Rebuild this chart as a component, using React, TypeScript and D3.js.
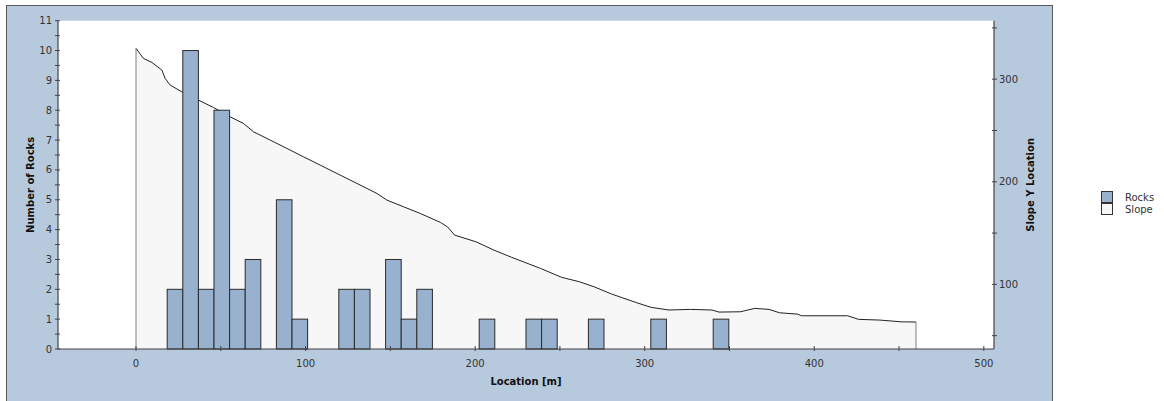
import React from "react";
import * as d3 from "d3";

// ---- data ----
const binWidth = 9.2;
const rockLocations = [23, 32.2, 41.4, 50.6, 59.8, 69, 87.4, 96.6, 124.2, 133.4, 151.8, 161, 170.2, 207, 234.6, 243.8, 271.4, 308.2, 345];
const rockCounts = [2, 10, 2, 8, 2, 3, 5, 1, 2, 2, 3, 1, 2, 1, 1, 1, 1, 1, 1];

const slopeX = [0, 4.4, 9.4, 15.3, 17.2, 20.2, 27.1, 36.9, 45.7, 55.6, 63.4, 69.3, 79.2, 89, 98.8, 108.7, 118.5, 130.3, 142.1, 148, 157.8, 167.7, 179.5, 183.7, 187.9, 200.5, 211.1, 221.6, 238.5, 251.1, 261.6, 270.1, 280.6, 295.3, 303.8, 314.3, 327, 339.6, 343.8, 356.5, 364.9, 373.3, 379.6, 390.2, 392.3, 419.7, 426.1, 438.7, 451.3, 460];
const slopeY = [330, 320.2, 316.3, 308.8, 300.7, 294.2, 287.6, 279.5, 272.4, 263.3, 256.8, 248.7, 240.6, 232.5, 224.3, 216.2, 208.1, 198.4, 188.6, 182.1, 175.6, 169.1, 160.4, 156.1, 148, 141.5, 133.4, 126.3, 115.6, 106.8, 102.5, 97.7, 90.5, 82.1, 77.6, 75, 75.6, 75, 73, 73.3, 76.6, 75.6, 72.3, 71, 69.4, 69.4, 65.9, 65.2, 63.5, 63.3];

const xTicks = [0, 100, 200, 300, 400, 500];
const xMinorTicks = [50, 150, 250, 350, 450];
const yLeftTicks = [0, 1, 2, 3, 4, 5, 6, 7, 8, 9, 10, 11];
const yLeftMinor = [0.5, 1.5, 2.5, 3.5, 4.5, 5.5, 6.5, 7.5, 8.5, 9.5, 10.5];
const yRightTicks = [100, 200, 300];
const yRightMinor = [50, 150, 250, 350];

const legendItems = ["Rocks", "Slope"];

const FONT = "'DejaVu Sans', Verdana, sans-serif";
const PANEL = "#b7c9dd";
const BAR = "#98b1cf";
const TXT = "#333";

export default function App() {
  const W = 1164, H = 401;
  const left = 58, right = 994, top = 20.7, bottom = 349;

  const x = d3.scaleLinear().domain([-46, 506]).range([left, right]);
  const yL = d3.scaleLinear().domain([0, 11]).range([bottom, top]);
  const yR = d3.scaleLinear().domain([37, 357]).range([bottom, top]);

  const pts = slopeX.map((v, i) => [v, slopeY[i]] as [number, number]);
  const area = d3.area<[number, number]>()
    .x(d => x(d[0]))
    .y0(bottom)
    .y1(d => yR(d[1]));
  const line = d3.line<[number, number]>()
    .x(d => x(d[0]))
    .y(d => yR(d[1]));

  const first = pts[0];
  const last = pts[pts.length - 1];

  return (
    <svg width={W} height={H} style={{ position: "absolute", left: 0, top: 0 }} fontFamily={FONT}>
      {/* panel */}
      <rect x={6.5} y={5.5} width={1046} height={410} fill={PANEL} stroke="#5a5a5a" strokeWidth={1} />
      {/* plot area */}
      <rect x={left} y={top} width={right - left} height={bottom - top} fill="#ffffff" />

      {/* slope area */}
      <path d={area(pts) || ""} fill="#f7f7f7" />
      <line x1={x(first[0])} x2={x(first[0])} y1={bottom} y2={yR(first[1])} stroke="#808080" strokeWidth={1} />
      <line x1={x(last[0])} x2={x(last[0])} y1={bottom} y2={yR(last[1])} stroke="#808080" strokeWidth={1} />
      <path d={line(pts) || ""} fill="none" stroke="#222" strokeWidth={1} />

      {/* bars */}
      {rockLocations.map((loc, i) => {
        const x0 = x(loc - binWidth / 2);
        const x1 = x(loc + binWidth / 2);
        return (
          <rect key={i} x={x0} y={yL(rockCounts[i])} width={x1 - x0} height={bottom - yL(rockCounts[i])}
            fill={BAR} stroke="#2a2a2a" strokeWidth={1} />
        );
      })}

      {/* bottom axis */}
      <line x1={left} x2={right} y1={bottom} y2={bottom} stroke="#444" strokeWidth={1.2} />
      {xTicks.map(t => (
        <g key={"xt" + t}>
          <line x1={x(t)} x2={x(t)} y1={bottom - 3} y2={bottom + 2} stroke="#444" />
          <text x={x(t)} y={363} fontSize={10} fill={TXT} textAnchor="middle" dominantBaseline="central">{t}</text>
        </g>
      ))}
      {xMinorTicks.map(t => (
        <line key={"xm" + t} x1={x(t)} x2={x(t)} y1={bottom - 3} y2={bottom + 2} stroke="#444" />
      ))}
      <text x={(left + right) / 2} y={381} fontSize={10} fontWeight="bold" fill="#111" textAnchor="middle" dominantBaseline="central">Location [m]</text>

      {/* left axis */}
      <line x1={left} x2={left} y1={top} y2={bottom} stroke="#444" strokeWidth={1.2} />
      {yLeftTicks.map(t => (
        <g key={"yl" + t}>
          <line x1={left - 3} x2={left + 2} y1={yL(t)} y2={yL(t)} stroke="#444" />
          <text x={52} y={yL(t)} fontSize={10} fill={TXT} textAnchor="end" dominantBaseline="central">{t}</text>
        </g>
      ))}
      {yLeftMinor.map(t => (
        <line key={"ylm" + t} x1={left - 3} x2={left + 2} y1={yL(t)} y2={yL(t)} stroke="#444" />
      ))}
      <text transform={`translate(30,${(top + bottom) / 2}) rotate(-90)`} fontSize={10} fontWeight="bold" fill="#111" textAnchor="middle" dominantBaseline="central">Number of Rocks</text>

      {/* right axis */}
      <line x1={right} x2={right} y1={top} y2={bottom} stroke="#444" strokeWidth={1.2} />
      {yRightTicks.map(t => (
        <g key={"yr" + t}>
          <line x1={right - 2} x2={right + 3} y1={yR(t)} y2={yR(t)} stroke="#444" />
          <text x={999} y={yR(t)} fontSize={10} fill={TXT} textAnchor="start" dominantBaseline="central">{t}</text>
        </g>
      ))}
      {yRightMinor.map(t => (
        <line key={"yrm" + t} x1={right - 2} x2={right + 3} y1={yR(t)} y2={yR(t)} stroke="#444" />
      ))}
      <text transform={`translate(1030,${(top + bottom) / 2}) rotate(-90)`} fontSize={10} fontWeight="bold" fill="#111" textAnchor="middle" dominantBaseline="central">Slope Y Location</text>

      {/* legend */}
      {legendItems.map((name, i) => (
        <g key={name}>
          <rect x={1101.5} y={191.5 + i * 12} width={11} height={11} fill={i === 0 ? BAR : "#f7f7f7"} stroke="#333" strokeWidth={1} />
          <text x={1125} y={197 + i * 12.5} fontSize={10} fill={TXT} dominantBaseline="central">{name}</text>
        </g>
      ))}
    </svg>
  );
}
